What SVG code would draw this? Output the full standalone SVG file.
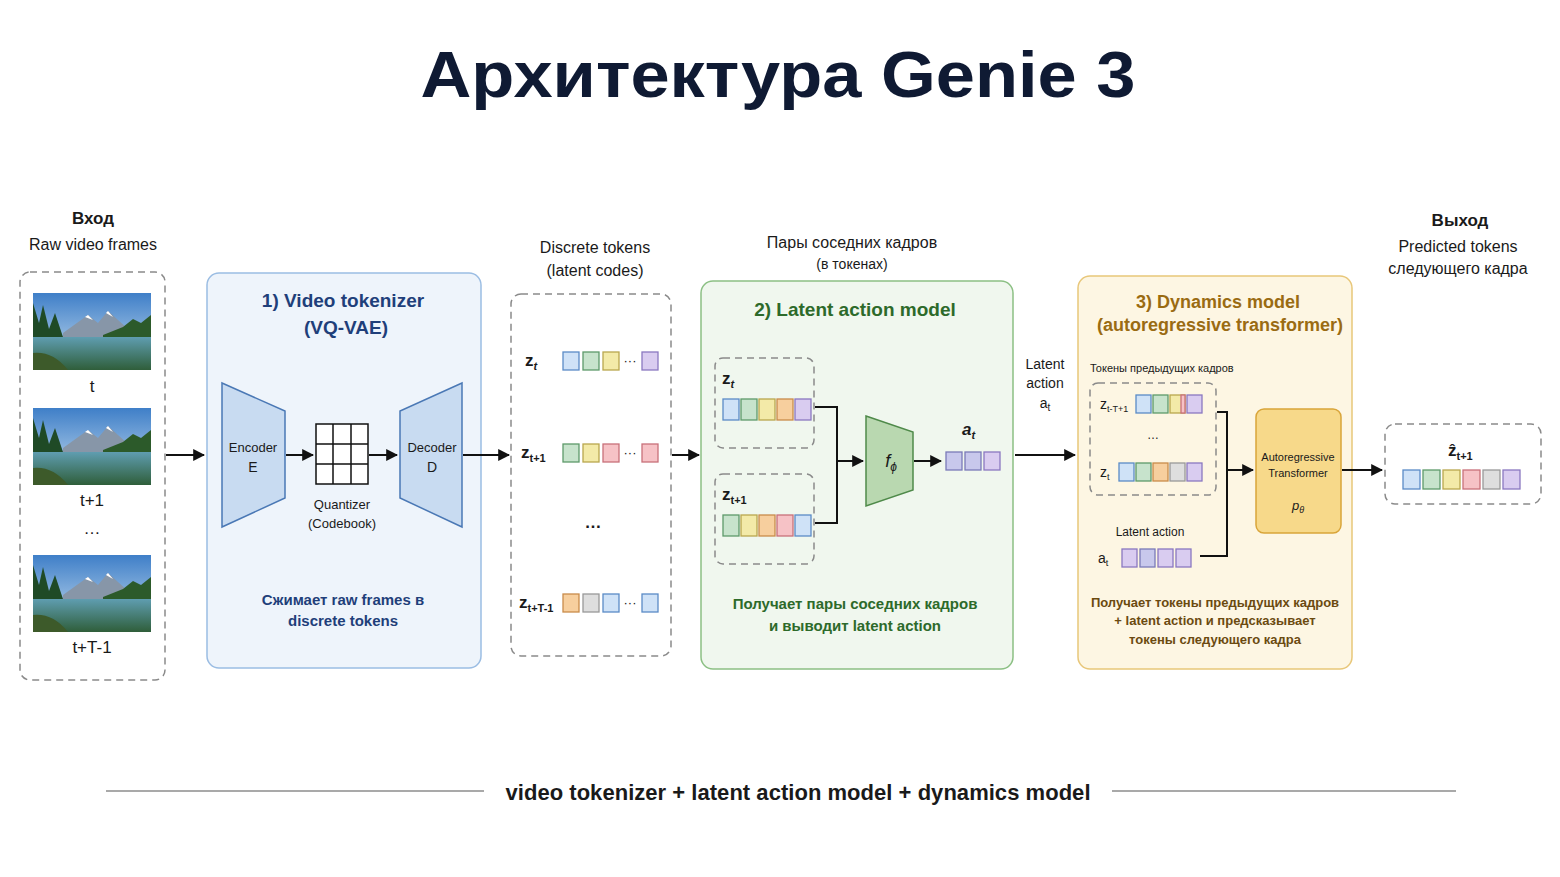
<svg xmlns="http://www.w3.org/2000/svg" xmlns:xlink="http://www.w3.org/1999/xlink" width="1560" height="877" viewBox="0 0 1560 877">
<style>
text{font-family:"Liberation Sans",Arial,sans-serif;fill:#1a1a1a}
.b{font-weight:bold}
.dash{fill:none;stroke:#8a8a8a;stroke-width:1.5;stroke-dasharray:7 5}
.ln{fill:none;stroke:#111;stroke-width:2}
.tb{fill:#cfe2f7;stroke:#5b8bc7}.tg{fill:#c7e3cc;stroke:#5e9a6a}.ty{fill:#f3eaa8;stroke:#b9a74e}
.tp{fill:#f6c2c6;stroke:#c8707a}.to{fill:#f7cf9e;stroke:#c98c4b}.tv{fill:#d9ccf0;stroke:#8a78c0}
.tx{fill:#dedede;stroke:#999}.tl{fill:#c8c8ec;stroke:#7a7ab8}
rect.tb,rect.tg,rect.ty,rect.tp,rect.to,rect.tv,rect.tx,rect.tl{stroke-width:1.3}
</style>
<defs>
<marker id="ar" viewBox="0 0 10 10" refX="9" refY="5" markerWidth="6" markerHeight="6" orient="auto"><path d="M0,0 L10,5 L0,10 z" fill="#111"/></marker>
<linearGradient id="sky" x1="0" y1="0" x2="0" y2="1"><stop offset="0" stop-color="#3f7fc8"/><stop offset="1" stop-color="#cfe3f2"/></linearGradient>
<linearGradient id="wat" x1="0" y1="0" x2="0" y2="1"><stop offset="0" stop-color="#5f9db0"/><stop offset="1" stop-color="#2f5e3a"/></linearGradient>
<symbol id="scene" viewBox="0 0 118 77">
<rect width="118" height="77" fill="url(#sky)"/>
<path d="M30,40 L55,22 L65,30 L75,18 L95,36 L118,38 L118,45 L30,45z" fill="#8796a8"/>
<path d="M52,24 L55,22 L60,27z M73,20 L75,18 L80,24z" fill="#fff"/>
<path d="M0,10 L6,30 L10,12 L16,36 L22,20 L30,44 L0,48z" fill="#1f4a26"/>
<path d="M70,42 L90,34 L100,26 L108,30 L118,22 L118,46 L70,46z" fill="#2c5a2a"/>
<rect y="44" width="118" height="33" fill="url(#wat)"/>
<path d="M0,60 Q20,58 35,77 L0,77z" fill="#3d5a2a"/>
</symbol>
</defs>
<rect width="1560" height="877" fill="#fff"/>
<text x="778" y="97" text-anchor="middle" class="b" font-size="64" textLength="715" lengthAdjust="spacingAndGlyphs" style="fill:#0f1a33">Архитектура Genie 3</text>

<g id="input">
<text x="93" y="224" text-anchor="middle" class="b" font-size="17">Вход</text>
<text x="93" y="250" text-anchor="middle" font-size="16">Raw video frames</text>
<rect x="20" y="272" width="145" height="408" rx="10" class="dash"/>
<use xlink:href="#scene" x="33" y="293" width="118" height="77"/>
<use xlink:href="#scene" x="33" y="408" width="118" height="77"/>
<use xlink:href="#scene" x="33" y="555" width="118" height="77"/>
<text x="92" y="392" text-anchor="middle" font-size="17">t</text>
<text x="92" y="506" text-anchor="middle" font-size="17">t+1</text>
<text x="92" y="534" text-anchor="middle" font-size="17">…</text>
<text x="92" y="653" text-anchor="middle" font-size="17">t+T-1</text>
</g>

<g id="tokenizer">
<rect x="207" y="273" width="274" height="395" rx="12" fill="#eef4fb" stroke="#9bbde3" stroke-width="1.5"/>
<text x="343" y="307" text-anchor="middle" class="b" font-size="19" style="fill:#1f3f7a">1) Video tokenizer</text>
<text x="346" y="334" text-anchor="middle" class="b" font-size="19" style="fill:#1f3f7a">(VQ-VAE)</text>
<polygon points="222,383 285,411 285,498 222,527" fill="#c8dbf1" stroke="#4a78b5" stroke-width="1.5"/>
<text x="253" y="452" text-anchor="middle" font-size="13">Encoder</text>
<text x="253" y="472" text-anchor="middle" font-size="14">E</text>
<g fill="#fff" stroke="#111" stroke-width="1.5">
<rect x="316" y="424" width="52" height="60"/>
<path d="M333,424V484M351,424V484M316,444H368M316,464H368" fill="none"/>
</g>
<text x="342" y="509" text-anchor="middle" font-size="13">Quantizer</text>
<text x="342" y="528" text-anchor="middle" font-size="13">(Codebook)</text>
<polygon points="462,383 400,411 400,498 462,527" fill="#c8dbf1" stroke="#4a78b5" stroke-width="1.5"/>
<text x="432" y="452" text-anchor="middle" font-size="13">Decoder</text>
<text x="432" y="472" text-anchor="middle" font-size="14">D</text>
<text x="343" y="605" text-anchor="middle" class="b" font-size="15" style="fill:#1f3f7a">Сжимает raw frames в</text>
<text x="343" y="626" text-anchor="middle" class="b" font-size="15" style="fill:#1f3f7a">discrete tokens</text>
</g>

<g id="discrete">
<text x="595" y="253" text-anchor="middle" font-size="16">Discrete tokens</text>
<text x="595" y="276" text-anchor="middle" font-size="16">(latent codes)</text>
<rect x="511" y="294" width="160" height="362" rx="10" class="dash"/>
<text x="525" y="366" class="b" font-size="17">z<tspan font-size="11" dy="4" font-style="italic">t</tspan></text>
<rect x="563" y="352" width="16" height="18" class="tb"/><rect x="583" y="352" width="16" height="18" class="tg"/><rect x="603" y="352" width="16" height="18" class="ty"/><text x="630" y="365" text-anchor="middle" font-size="13">···</text><rect x="642" y="352" width="16" height="18" class="tv"/>
<text x="521" y="458" class="b" font-size="17">z<tspan font-size="11" dy="4">t+1</tspan></text>
<rect x="563" y="444" width="16" height="18" class="tg"/><rect x="583" y="444" width="16" height="18" class="ty"/><rect x="603" y="444" width="16" height="18" class="tp"/><text x="630" y="457" text-anchor="middle" font-size="13">···</text><rect x="642" y="444" width="16" height="18" class="tp"/>
<text x="593" y="528" text-anchor="middle" class="b" font-size="17">…</text>
<text x="519" y="608" class="b" font-size="17">z<tspan font-size="11" dy="4">t+T-1</tspan></text>
<rect x="563" y="594" width="16" height="18" class="to"/><rect x="583" y="594" width="16" height="18" class="tx"/><rect x="603" y="594" width="16" height="18" class="tb"/><text x="630" y="607" text-anchor="middle" font-size="13">···</text><rect x="642" y="594" width="16" height="18" class="tb"/>
</g>

<g id="lam">
<text x="852" y="248" text-anchor="middle" font-size="16">Пары соседних кадров</text>
<text x="852" y="269" text-anchor="middle" font-size="14">(в токенах)</text>
<rect x="701" y="281" width="312" height="388" rx="12" fill="#f0f7ee" stroke="#8cc084" stroke-width="1.5"/>
<text x="855" y="316" text-anchor="middle" class="b" font-size="19" style="fill:#2d6a2a">2) Latent action model</text>
<rect x="715" y="358" width="99" height="90" rx="8" class="dash"/>
<text x="722" y="384" class="b" font-size="17">z<tspan font-size="11" dy="4" font-style="italic">t</tspan></text>
<rect x="723" y="399" width="16" height="21" class="tb"/><rect x="741" y="399" width="16" height="21" class="tg"/><rect x="759" y="399" width="16" height="21" class="ty"/><rect x="777" y="399" width="16" height="21" class="to"/><rect x="795" y="399" width="16" height="21" class="tv"/>
<rect x="715" y="474" width="99" height="90" rx="8" class="dash"/>
<text x="722" y="500" class="b" font-size="17">z<tspan font-size="11" dy="4">t+1</tspan></text>
<rect x="723" y="515" width="16" height="21" class="tg"/><rect x="741" y="515" width="16" height="21" class="ty"/><rect x="759" y="515" width="16" height="21" class="to"/><rect x="777" y="515" width="16" height="21" class="tp"/><rect x="795" y="515" width="16" height="21" class="tb"/>
<polygon points="866,416 913,432 913,490 866,506" fill="#b9d8b0" stroke="#4f8a4a" stroke-width="1.5"/>
<text x="891" y="467" text-anchor="middle" font-size="18" font-style="italic">f<tspan font-size="12" dy="4">ϕ</tspan></text>
<text x="962" y="435" class="b" font-size="17" font-style="italic">a<tspan font-size="11" dy="4">t</tspan></text>
<rect x="946" y="452" width="16" height="18" class="tl"/><rect x="965" y="452" width="16" height="18" class="tl"/><rect x="984" y="452" width="16" height="18" class="tv"/>
<text x="855" y="609" text-anchor="middle" class="b" font-size="15" style="fill:#2d6a2a">Получает пары соседних кадров</text>
<text x="855" y="631" text-anchor="middle" class="b" font-size="15" style="fill:#2d6a2a">и выводит latent action</text>
</g>

<g id="latent-label">
<text x="1045" y="369" text-anchor="middle" font-size="14">Latent</text>
<text x="1045" y="388" text-anchor="middle" font-size="14">action</text>
<text x="1045" y="408" text-anchor="middle" font-size="14">a<tspan font-size="10" dy="3">t</tspan></text>
</g>

<g id="dynamics">
<rect x="1078" y="276" width="274" height="393" rx="12" fill="#fdf6e3" stroke="#e8c77a" stroke-width="1.5"/>
<text x="1218" y="308" text-anchor="middle" class="b" font-size="18" style="fill:#9a6b12">3) Dynamics model</text>
<text x="1220" y="331" text-anchor="middle" class="b" font-size="18" style="fill:#9a6b12">(autoregressive transformer)</text>
<text x="1090" y="372" font-size="11">Токены предыдущих кадров</text>
<rect x="1090" y="383" width="126" height="112" rx="8" class="dash"/>
<text x="1100" y="409" font-size="14">z<tspan font-size="9" dy="3">t-T+1</tspan></text>
<rect x="1136" y="395" width="15" height="18" class="tb"/><rect x="1153" y="395" width="15" height="18" class="tg"/><rect x="1170" y="395" width="15" height="18" class="ty"/><rect x="1181" y="395" width="4" height="18" class="tp"/><rect x="1187" y="395" width="15" height="18" class="tv"/>
<text x="1153" y="439" text-anchor="middle" font-size="12">…</text>
<text x="1100" y="477" font-size="14">z<tspan font-size="9" dy="3">t</tspan></text>
<rect x="1119" y="463" width="15" height="18" class="tb"/><rect x="1136" y="463" width="15" height="18" class="tg"/><rect x="1153" y="463" width="15" height="18" class="to"/><rect x="1170" y="463" width="15" height="18" class="tx"/><rect x="1187" y="463" width="15" height="18" class="tv"/>
<text x="1150" y="536" text-anchor="middle" font-size="12">Latent action</text>
<text x="1098" y="563" font-size="14">a<tspan font-size="9" dy="3">t</tspan></text>
<rect x="1122" y="549" width="15" height="18" class="tv"/><rect x="1140" y="549" width="15" height="18" class="tl"/><rect x="1158" y="549" width="15" height="18" class="tv"/><rect x="1176" y="549" width="15" height="18" class="tv"/>
<rect x="1256" y="409" width="85" height="124" rx="8" fill="#f7d98a" stroke="#d9a53a" stroke-width="1.5"/>
<text x="1298" y="461" text-anchor="middle" font-size="11">Autoregressive</text>
<text x="1298" y="477" text-anchor="middle" font-size="11">Transformer</text>
<text x="1298" y="510" text-anchor="middle" font-size="13" font-style="italic">p<tspan font-size="9" dy="3">θ</tspan></text>
<text x="1215" y="607" text-anchor="middle" class="b" font-size="13" style="fill:#6b4a10">Получает токены предыдущих кадров</text>
<text x="1215" y="625" text-anchor="middle" class="b" font-size="13" style="fill:#6b4a10">+ latent action и предсказывает</text>
<text x="1215" y="644" text-anchor="middle" class="b" font-size="13" style="fill:#6b4a10">токены следующего кадра</text>
</g>

<g id="output">
<text x="1460" y="226" text-anchor="middle" class="b" font-size="17">Выход</text>
<text x="1458" y="252" text-anchor="middle" font-size="16">Predicted tokens</text>
<text x="1458" y="274" text-anchor="middle" font-size="16">следующего кадра</text>
<rect x="1385" y="424" width="156" height="80" rx="10" class="dash"/>
<text x="1448" y="456" class="b" font-size="17">ẑ<tspan font-size="11" dy="4">t+1</tspan></text>
<rect x="1403" y="470" width="17" height="19" class="tb"/><rect x="1423" y="470" width="17" height="19" class="tg"/><rect x="1443" y="470" width="17" height="19" class="ty"/><rect x="1463" y="470" width="17" height="19" class="tp"/><rect x="1483" y="470" width="17" height="19" class="tx"/><rect x="1503" y="470" width="17" height="19" class="tv"/>
</g>

<g id="connectors">
<path d="M166,455H204" class="ln" marker-end="url(#ar)"/>
<path d="M286,455H313" class="ln" marker-end="url(#ar)"/>
<path d="M369,455H397" class="ln" marker-end="url(#ar)"/>
<path d="M463,455H509" class="ln" marker-end="url(#ar)"/>
<path d="M672,455H699" class="ln" marker-end="url(#ar)"/>
<path d="M815,407H837V523H815M837,461H863" class="ln" marker-end="url(#ar)"/>
<path d="M914,461H941" class="ln" marker-end="url(#ar)"/>
<path d="M1015,455H1075" class="ln" marker-end="url(#ar)"/>
<path d="M1217,412H1227V556H1200M1227,470H1253" class="ln" marker-end="url(#ar)"/>
<path d="M1342,470H1382" class="ln" marker-end="url(#ar)"/>
</g>

<g id="footer">
<path d="M106,791H484M1112,791H1456" stroke="#555" stroke-width="1.2"/>
<text x="798" y="800" text-anchor="middle" class="b" font-size="22" textLength="585" lengthAdjust="spacing">video  tokenizer + latent  action model +  dynamics model</text>
</g>
</svg>
